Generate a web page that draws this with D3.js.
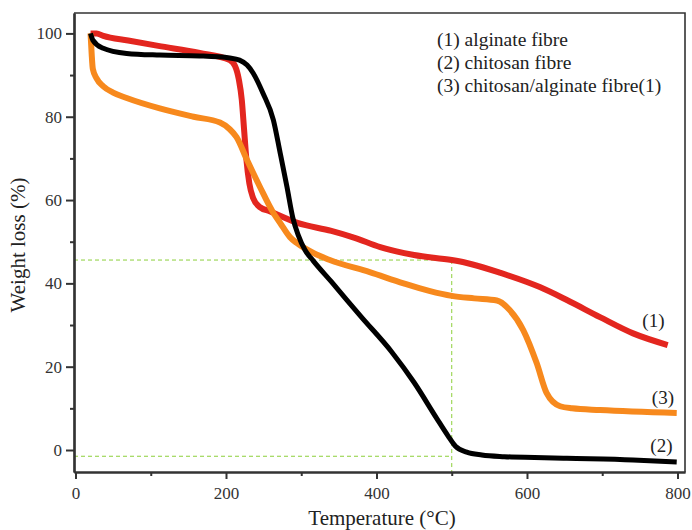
<!DOCTYPE html>
<html>
<head>
<meta charset="utf-8">
<script src="https://cdn.jsdelivr.net/npm/d3@7"></script>
<style>
  body { margin: 0; background: #fff; }
  text { font-family: "Liberation Serif", "Times New Roman", serif; }
</style>
</head>
<body>
<div id="chart"></div>
<script>
// TGA curves

// (1) alginate fibre
const alginateTemp = [20, 28, 37, 70, 110, 165, 205, 212, 217, 221, 224, 227, 231, 236, 245, 258, 295, 340, 370, 405, 450, 500, 520, 565, 617, 653, 697, 741, 787];
const alginateWeight = [100, 100, 99.4, 98.3, 97, 95.3, 93.6, 92.2, 89, 84, 77, 70, 64, 60.5, 58.3, 57.3, 54.5, 52.6, 51, 48.7, 46.8, 45.6, 44.9, 42.5, 39.1, 36, 31.9, 28, 25.2];

// (2) chitosan fibre
const chitosanTemp = [20, 23, 36, 68, 112, 165, 205, 218, 228, 236, 249, 263, 272, 281, 289, 296, 305, 316, 340, 380, 420, 450, 480, 495, 505, 520, 540, 570, 610, 653, 741, 799];
const chitosanWeight = [100, 98.4, 96.5, 95.2, 94.8, 94.6, 94.1, 93.6, 92.4, 90.5, 85.7, 79.2, 71.3, 63.2, 55.6, 51.6, 48, 45.4, 40.4, 31.9, 23.6, 16.2, 7.6, 3.4, 0.9, -0.5, -1.2, -1.6, -1.8, -2, -2.4, -2.9];

// (3) chitosan/alginate fibre
const blendTemp = [20, 21.5, 23, 28, 37, 50, 68, 112, 157, 192, 205, 214, 228, 245, 263, 272, 285, 294, 316, 338, 391, 436, 470, 500, 530, 560, 577, 595, 613, 626, 644, 660, 697, 799];
const blendWeight = [100, 95, 91.5, 89.2, 87.3, 85.8, 84.5, 82, 80, 78.6, 77, 75.1, 69.6, 63.2, 56.9, 54.5, 51.1, 49.7, 47.3, 45.6, 42.7, 40, 38.2, 37, 36.4, 35.9, 33.6, 28.8, 20.8, 13.7, 10.5, 10, 9.6, 8.9];

const seriesLabels = ["(1)", "(2)", "(3)"];
const legendLines = ["(1) alginate fibre", "(2) chitosan fibre", "(3) chitosan/alginate fibre(1)"];
const xTicks = [0, 200, 400, 600, 800];
const xMinorTicks = [100, 300, 500, 700];
const yTicks = [0, 20, 40, 60, 80, 100];
const yMinorTicks = [10, 30, 50, 70, 90];

// guide lines (temperature 500, weight 45.6 / -1.5)
const guideTemp = 500;
const guideUpper = 45.6;
const guideLower = -1.5;

const width = 692, height = 530;
const plot = { left: 74, right: 685, top: 13, bottom: 472 };

const svg = d3.select("#chart").append("svg")
  .attr("width", width)
  .attr("height", height);

const x = d3.scaleLinear().domain([-2, 810]).range([plot.left, plot.right]);
const y = d3.scaleLinear().domain([-5.28, 104.9]).range([plot.bottom, plot.top]);

// frame top + right
svg.append("path")
  .attr("d", `M${plot.left},${plot.top}H${plot.right}V${plot.bottom}`)
  .attr("fill", "none")
  .attr("stroke", "#333")
  .attr("stroke-width", 1.6);

// green dashed guides
const guide = svg.append("g")
  .attr("stroke", "#8ccf3a")
  .attr("stroke-width", 1)
  .attr("stroke-dasharray", "4,3")
  .attr("fill", "none");
guide.append("line")
  .attr("x1", plot.left).attr("x2", x(guideTemp))
  .attr("y1", y(guideUpper)).attr("y2", y(guideUpper));
guide.append("line")
  .attr("x1", plot.left).attr("x2", x(guideTemp))
  .attr("y1", y(guideLower)).attr("y2", y(guideLower));
guide.append("line")
  .attr("x1", x(guideTemp)).attr("x2", x(guideTemp))
  .attr("y1", y(guideUpper)).attr("y2", plot.bottom);

// curves
const line = d3.line()
  .x(d => x(d[0]))
  .y(d => y(d[1]))
  .curve(d3.curveMonotoneX);

const curves = [
  { t: alginateTemp, w: alginateWeight, color: "#e3261f", sw: 6 },
  { t: blendTemp, w: blendWeight, color: "#f7891d", sw: 6 },
  { t: chitosanTemp, w: chitosanWeight, color: "#000", sw: 5 }
];

curves.forEach(c => {
  svg.append("path")
    .datum(d3.zip(c.t, c.w))
    .attr("d", line)
    .attr("fill", "none")
    .attr("stroke", c.color)
    .attr("stroke-width", c.sw)
    .attr("stroke-linejoin", "round");
});

// axes
const xAxis = svg.append("g")
  .attr("transform", `translate(0,${plot.bottom})`)
  .call(d3.axisBottom(x).tickValues(xTicks).tickSize(7).tickPadding(8).tickSizeOuter(0));
const xMinor = svg.append("g")
  .attr("transform", `translate(0,${plot.bottom})`)
  .call(d3.axisBottom(x).tickValues(xMinorTicks).tickSize(4).tickFormat("").tickSizeOuter(0));
const yAxis = svg.append("g")
  .attr("transform", `translate(${plot.left},0)`)
  .call(d3.axisLeft(y).tickValues(yTicks).tickSize(8).tickPadding(4).tickSizeOuter(0));
const yMinor = svg.append("g")
  .attr("transform", `translate(${plot.left},0)`)
  .call(d3.axisLeft(y).tickValues(yMinorTicks).tickSize(4).tickFormat("").tickSizeOuter(0));

[xAxis, xMinor, yAxis, yMinor].forEach(g => {
  g.select(".domain").attr("stroke", "#333").attr("stroke-width", 2.2);
  g.selectAll(".tick line").attr("stroke", "#333").attr("stroke-width", 2);
  g.selectAll("text")
    .attr("font-family", "Liberation Serif, serif")
    .attr("font-size", 17)
    .attr("fill", "#333");
});

// axis titles
svg.append("text")
  .attr("x", 382)
  .attr("y", 525)
  .attr("text-anchor", "middle")
  .attr("font-size", 21)
  .attr("fill", "#222")
  .text("Temperature (°C)");

svg.append("text")
  .attr("transform", "translate(25,245) rotate(-90)")
  .attr("text-anchor", "middle")
  .attr("font-size", 21)
  .attr("fill", "#222")
  .text("Weight loss (%)");

// legend text
svg.selectAll(".legend")
  .data(legendLines)
  .enter()
  .append("text")
  .attr("class", "legend")
  .attr("x", 437)
  .attr("y", (d, i) => 46 + i * 23)
  .attr("font-size", 19.5)
  .attr("fill", "#222")
  .text(d => d);

// curve labels at the right end
const labelPos = [
  { t: 768, w: 29.5 },
  { t: 778.7, w: -0.5 },
  { t: 780.7, w: 11 }
];
svg.selectAll(".clabel")
  .data(seriesLabels)
  .enter()
  .append("text")
  .attr("class", "clabel")
  .attr("x", (d, i) => x(labelPos[i].t))
  .attr("y", (d, i) => y(labelPos[i].w))
  .attr("text-anchor", "middle")
  .attr("font-size", 19)
  .attr("fill", "#222")
  .text(d => d);
</script>
</body>
</html>
